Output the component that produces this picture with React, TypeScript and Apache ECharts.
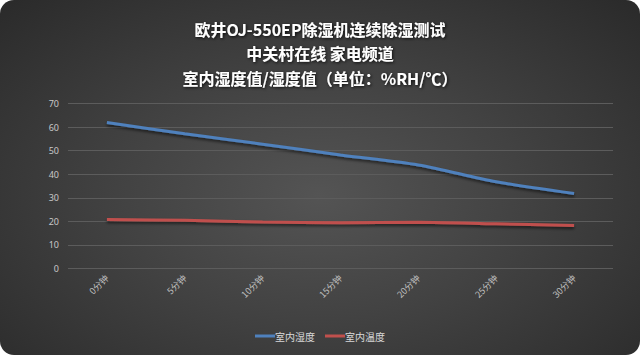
import React, { useEffect, useRef } from "react";
import * as echarts from "echarts";

const categories = ["0分钟", "5分钟", "10分钟", "15分钟", "20分钟", "25分钟", "30分钟"];
const humidity = [62, 57.2, 52.8, 48.2, 43.9, 36.8, 31.8];
const temperature = [20.8, 20.4, 19.7, 19.4, 19.6, 18.9, 18.2];
const titleLines = ["欧井OJ-550EP除湿机连续除湿测试", "中关村在线 家电频道", "室内湿度值/湿度值（单位：%RH/℃）"];
const seriesNames = ["室内湿度", "室内温度"];

export default function App() {
  const ref = useRef<HTMLDivElement>(null);
  useEffect(() => {
    document.body.style.margin = "0";
    document.body.style.background = "#ffffff";
    const chart = echarts.init(ref.current!, null, { renderer: "svg" });
    const titleStyle = {
      color: "#ffffff",
      fontSize: 16,
      fontWeight: "bold" as const,
      fontFamily: "Noto Sans CJK SC",
      textShadowColor: "rgba(0,0,0,0.8)",
      textShadowBlur: 3,
      textShadowOffsetX: 1,
      textShadowOffsetY: 1,
    };
    chart.setOption({
      animation: false,
      backgroundColor: "transparent",
      title: titleLines.map((t, i) => ({
        text: t,
        left: "center",
        top: 20.5 + i * 24.5,
        padding: 0,
        textStyle: titleStyle,
      })),
      legend: {
        bottom: 9,
        left: "center",
        itemWidth: 20,
        itemHeight: 3,
        itemGap: 10,
        icon: "rect",
        textStyle: { color: "#d9d9d9", fontSize: 10, fontFamily: "Noto Sans CJK SC", padding: [0, 0, 0, -5] },
        data: seriesNames,
      },
      grid: { left: 68, right: 27, top: 103.7, bottom: 86.7 },
      xAxis: {
        type: "category",
        data: categories,
        boundaryGap: true,
        axisLine: { show: false },
        axisTick: { show: false },
        axisLabel: {
          rotate: 45,
          color: "#bfbfbf",
          fontSize: 9,
          fontFamily: "Noto Sans CJK SC",
          margin: 8,
        },
      },
      yAxis: {
        type: "value",
        min: 0,
        max: 70,
        interval: 10,
        axisLine: { show: false },
        axisTick: { show: false },
        axisLabel: { color: "#c8c8c8", fontSize: 9, fontFamily: "Noto Sans", margin: 9 },
        splitLine: { lineStyle: { color: "#5c5c5c", width: 1 } },
      },
      series: [
        {
          name: seriesNames[0],
          type: "line",
          data: humidity,
          smooth: 0.3,
          symbol: "none",
          color: "#4f81bd",
          lineStyle: {
            width: 3,
            color: "#4f81bd",
            shadowColor: "rgba(0,0,0,0.6)",
            shadowBlur: 3,
            shadowOffsetY: 2,
          },
        },
        {
          name: seriesNames[1],
          type: "line",
          data: temperature,
          smooth: 0.3,
          symbol: "none",
          color: "#c0504d",
          lineStyle: {
            width: 3,
            color: "#c0504d",
            shadowColor: "rgba(0,0,0,0.6)",
            shadowBlur: 3,
            shadowOffsetY: 2,
          },
        },
      ],
    });
    return () => chart.dispose();
  }, []);
  return (
    <div
      style={{
        width: 640,
        height: 355,
        borderRadius: 14,
        overflow: "hidden",
        background: "radial-gradient(ellipse at 50% 55%, #545454 0%, #424242 45%, #2a2a2a 100%)",
      }}
    >
      <div ref={ref} style={{ width: 640, height: 355 }} />
    </div>
  );
}
